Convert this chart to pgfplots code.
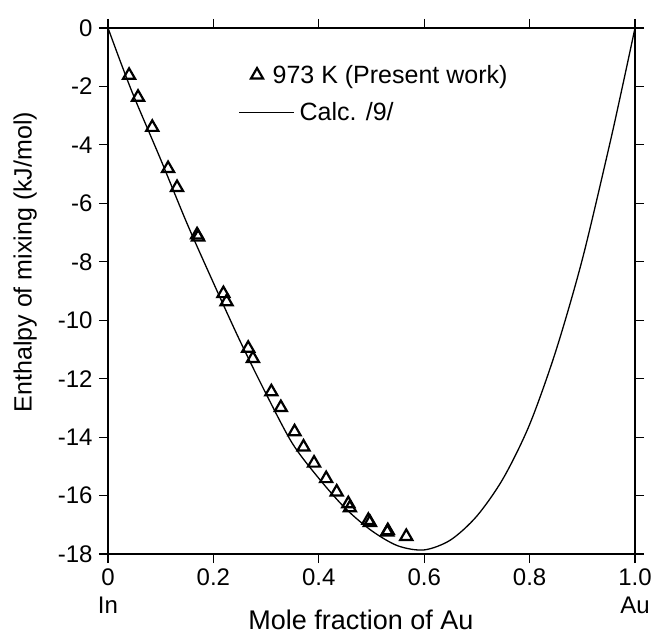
\documentclass[border=0pt]{standalone}
\usepackage{pgfplots}
\pgfplotsset{compat=1.18}
\usepackage{fontspec}
\setmainfont{Liberation Sans}
\pgfplotsset{
  trilegend/.style={legend image code/.code={\draw[##1, only marks] plot coordinates {(18pt,0pt)};}},
  linelegend/.style={legend image code/.code={\draw[##1] (0pt,0pt) -- (55pt,0pt);}},
}
\begin{document}
\begin{tikzpicture}
\useasboundingbox (-108pt,-80pt) rectangle (551pt,554pt);
\begin{axis}[
  at={(0pt,0pt)}, anchor=south west,
  scale only axis, width=527pt, height=526pt,
  xmin=0, xmax=1, ymin=-18, ymax=0,
  xtick={0,0.2,0.4,0.6,0.8,1},
  xticklabels={{0\\In},0.2,0.4,0.6,0.8,{1.0\\Au}},
  ytick={-18,-16,-14,-12,-10,-8,-6,-4,-2,0},
  yticklabels={-18,-16,-14,-12,-10,-8,-6,-4,-2,0},
  tick align=outside, tick pos=both, major tick length=9pt,
  axis line style={line width=1.3pt},
  every tick/.style={black, line width=1.2pt},
  xticklabel style={align=center, font=\fontsize{24}{28}\selectfont, anchor=north, yshift=-2pt},
  yticklabel style={font=\fontsize{24}{28}\selectfont, anchor=east, xshift=-3pt},
  xlabel={Mole fraction of Au},
  ylabel={Enthalpy of mixing (kJ/mol)},
  xlabel style={font=\fontsize{27}{30}\selectfont, at={(axis description cs:0.48,-0.125)}, anchor=center},
  ylabel style={font=\fontsize{25}{30}\selectfont, at={(axis description cs:-0.157,0.555)}, anchor=center},
  legend style={at={(axis cs:0.247,-1.2)}, anchor=north west, draw=none, fill=none,
    inner sep=0pt, row sep=14pt, font=\fontsize{25}{28}\selectfont},
  legend cell align=left,
]
\addplot[only marks, line width=2.2pt, mark=triangle, mark size=7pt, mark options={line width=2.2pt, fill=white, draw=black, solid}, trilegend]
  coordinates {
  (0.040,-1.62) (0.057,-2.37) (0.084,-3.40) (0.114,-4.81) (0.131,-5.46)
  (0.169,-7.08) (0.171,-7.15) (0.219,-9.09) (0.225,-9.37) (0.266,-10.96)
  (0.275,-11.31) (0.310,-12.45) (0.328,-12.99) (0.354,-13.82) (0.371,-14.34)
  (0.391,-14.89) (0.414,-15.42) (0.434,-15.88) (0.456,-16.28) (0.459,-16.42)
  (0.494,-16.85) (0.497,-16.92) (0.530,-17.25) (0.531,-17.20) (0.566,-17.40)
  };
\addlegendentry{\hspace*{-24pt}973 K (Present work)}
\addplot[black, line width=1.3pt, smooth, linelegend]
  coordinates {
  (0,0) (0.025,-1.22) (0.05,-2.38) (0.1,-4.50) (0.15,-6.69) (0.2,-8.72)
  (0.25,-10.69) (0.3,-12.52) (0.35,-14.22) (0.4,-15.41) (0.45,-16.43)
  (0.5,-17.20) (0.55,-17.72) (0.6,-17.86) (0.65,-17.52)
  (0.7,-16.70) (0.75,-15.41) (0.8,-13.57) (0.85,-11.04) (0.9,-7.92)
  (0.95,-4.13) (0.975,-2.10) (1,0)
  };
\addlegendentry{\hspace*{3pt}Calc. /9/}
\end{axis}
\end{tikzpicture}
\end{document}
